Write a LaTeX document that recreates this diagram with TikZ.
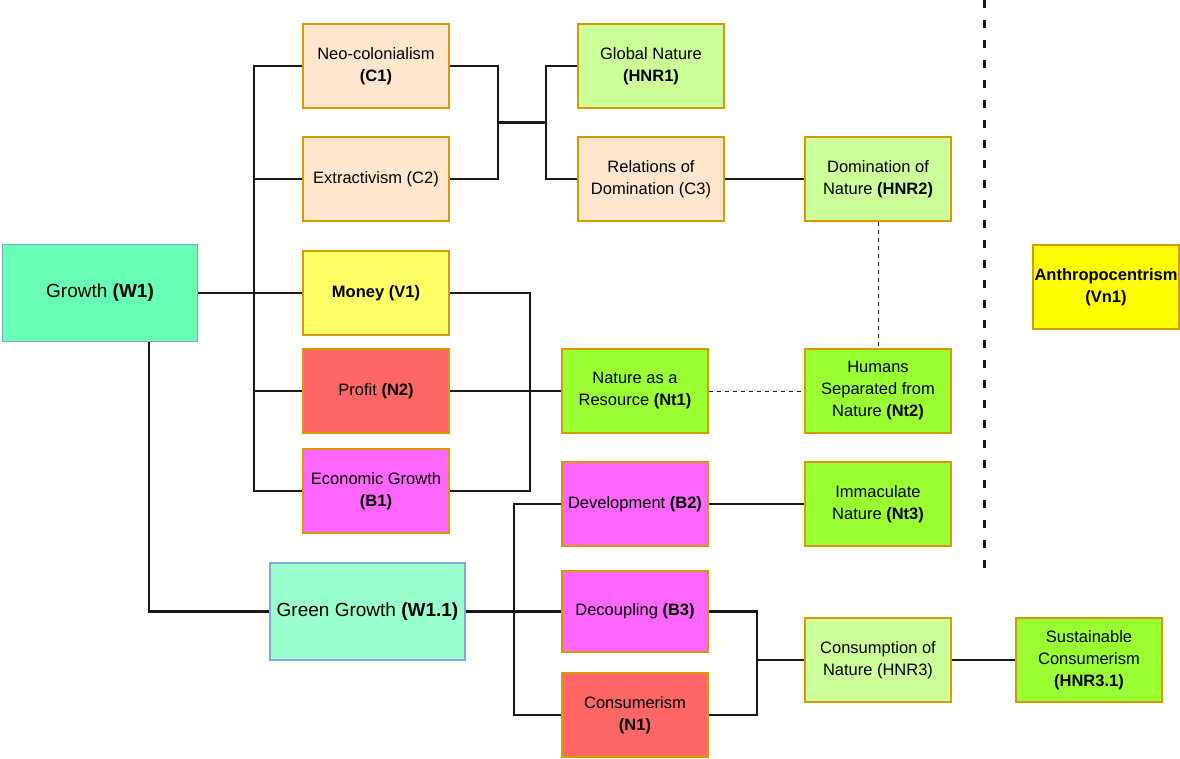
\documentclass[tikz,border=0pt]{standalone}
\usepackage{fontspec}
\setmainfont{Liberation Sans}
\usetikzlibrary{calc}
\definecolor{mintA}{HTML}{66FFB3}
\definecolor{mintB}{HTML}{99FFCC}
\definecolor{blueline}{HTML}{7EA6E0}
\definecolor{peach}{HTML}{FFE6CC}
\definecolor{goldline}{HTML}{D79B00}
\definecolor{lightgreen}{HTML}{CCFF99}
\definecolor{brightgreen}{HTML}{99FF33}
\definecolor{paleyellow}{HTML}{FFFF66}
\definecolor{pureyellow}{HTML}{FFFF00}
\definecolor{salmon}{HTML}{FF6666}
\definecolor{pinkish}{HTML}{FF66FF}
\begin{document}
\begin{tikzpicture}[x=1pt,y=-1pt,
  box/.style={draw=goldline, line width=1.2pt, minimum width=146pt, minimum height=84pt,
    inner sep=0pt, align=center, font=\fontsize{16.5}{22}\selectfont, text=black},
  wbox/.style={draw=blueline, line width=1.2pt, minimum width=195pt, minimum height=97pt,
    inner sep=0pt, align=center, font=\fontsize{19}{23}\selectfont, text=black},
  conn/.style={draw=black!90, line width=2.8pt},
  thindash/.style={draw=black!90, line width=1pt, dash pattern=on 4pt off 4pt},
  divider/.style={draw=black!90, line width=3pt, dash pattern=on 8pt off 12pt}]
\useasboundingbox (0,0) rectangle (1180,758);

% root concepts
\node[wbox, fill=mintA] (w1) at (100,293) {Growth \textbf{(W1)}};
\node[wbox, fill=mintB] (w11) at (367.5,611.5) {Green Growth \textbf{(W1.1)}};

% first column
\node[box, fill=peach] (c1) at (376,66) {Neo-colonialism\\\textbf{(C1)}};
\node[box, fill=peach] (c2) at (376,179) {Extractivism (C2)};
\node[box, fill=paleyellow] (v1) at (376,293) {\textbf{Money (V1)}};
\node[box, fill=salmon] (n2) at (376,391) {Profit \textbf{(N2)}};
\node[box, fill=pinkish] (b1) at (376,491) {Economic Growth\\\textbf{(B1)}};

% second column
\node[box, fill=lightgreen] (hnr1) at (651,66) {Global Nature\\\textbf{(HNR1)}};
\node[box, fill=peach] (c3) at (651,179) {Relations of\\Domination (C3)};
\node[box, fill=brightgreen] (nt1) at (635,391) {Nature as a\\Resource \textbf{(Nt1)}};
\node[box, fill=pinkish] (b2) at (635,504) {Development \textbf{(B2)}};
\node[box, fill=pinkish, minimum height=81pt] (b3) at (635,611.5) {Decoupling \textbf{(B3)}};
\node[box, fill=salmon] (n1) at (635,715) {Consumerism\\\textbf{(N1)}};

% third column
\node[box, fill=lightgreen] (hnr2) at (878,179) {Domination of\\Nature \textbf{(HNR2)}};
\node[box, fill=brightgreen] (nt2) at (878,391) {Humans\\Separated from\\Nature \textbf{(Nt2)}};
\node[box, fill=brightgreen] (nt3) at (878,504) {Immaculate\\Nature \textbf{(Nt3)}};
\node[box, fill=lightgreen] (hnr3) at (878,660) {Consumption of\\Nature (HNR3)};
\node[box, fill=brightgreen] (hnr31) at (1089,660) {Sustainable\\Consumerism\\\textbf{(HNR3.1)}};

% value beyond the divider
\node[box, fill=pureyellow] (vn1) at (1106,287) {\textbf{Anthropocentrism}\\\textbf{(Vn1)}};

% bus columns
\coordinate (bx) at (254,0);
\coordinate (gx) at (149,0);
\coordinate (mx) at (498,0);
\coordinate (sx) at (546,0);
\coordinate (vx) at (530,0);
\coordinate (dx) at (514,0);
\coordinate (ex) at (757,0);

% Growth branches
\draw[conn] (w1.east) -- (v1.west);
\draw[conn] (c1.west) -- (c1.west -| bx) -- (b1.west -| bx) -- (b1.west);
\draw[conn] (c2.west) -- (c2.west -| bx);
\draw[conn] (n2.west) -- (n2.west -| bx);
\draw[conn] (w1.south -| gx) |- (w11.west);

% colonial branch
\draw[conn] (c1.east) -- (c1.east -| mx) -- (c2.east -| mx) -- (c2.east);
\coordinate (m1) at ($(c1.east -| mx)!0.5!(c2.east -| mx)$);
\draw[conn] (m1) -- (m1 -| sx);
\draw[conn] (hnr1.west) -- (hnr1.west -| sx) -- (c3.west -| sx) -- (c3.west);
\draw[conn] (c3.east) -- (hnr2.west);

% economic branch
\draw[conn] (v1.east) -- (v1.east -| vx) -- (b1.east -| vx) -- (b1.east);
\draw[conn] (n2.east) -- (nt1.west);

% green growth branch
\draw[conn] (w11.east) -- (b3.west);
\draw[conn] (b2.west) -- (b2.west -| dx) -- (n1.west -| dx) -- (n1.west);
\draw[conn] (b2.east) -- (nt3.west);
\draw[conn] (b3.east) -- (b3.east -| ex) -- (n1.east -| ex) -- (n1.east);
\draw[conn] (hnr3.west -| ex) -- (hnr3.west);
\draw[conn] (hnr3.east) -- (hnr31.west);

% weak links
\draw[thindash] (nt1.east) -- (nt2.west);
\draw[thindash] (hnr2.south) -- (nt2.north);

% divider
\coordinate (dtop) at (984,0);
\coordinate (dbot) at (984,575);
\draw[divider] (dtop) -- (dbot);
\end{tikzpicture}
\end{document}
